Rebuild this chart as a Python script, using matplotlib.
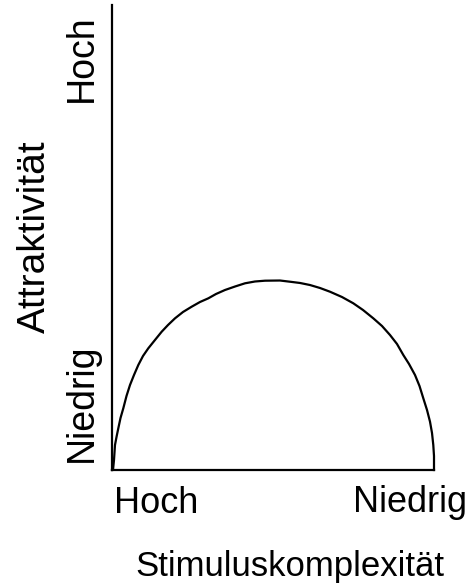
import matplotlib
matplotlib.use("Agg")
import matplotlib.pyplot as plt

# Data (x: Stimuluskomplexität 0=Hoch..100=Niedrig, y: Attraktivität 0..100)
curve_x = [0, 0.31, 0.62, 0.93, 1.40, 1.96, 2.64, 3.51, 4.50, 5.59, 6.83, 8.17, 9.63, 11.27,
           13.35, 15.43, 17.39, 19.57, 22.05, 24.75, 27.33, 29.91, 32.30, 35.09, 38.20,
           41.30, 44.41, 47.52, 52.17, 55.28, 58.39, 61.49, 64.60, 67.70, 71.43, 74.94,
           77.95, 81.15, 83.85, 86.34, 88.51, 90.47, 92.24, 94.10, 95.50, 96.68, 97.83,
           98.76, 99.38, 99.78, 100, 100, 100]
curve_y = [0, 0, 2.15, 5.38, 7.10, 8.97, 11.18, 13.27, 15.91, 18.28, 20.43, 22.58, 24.52, 26.17,
           27.96, 29.74, 31.18, 32.62, 33.98, 35.12, 36.13, 36.92, 37.85, 38.71, 39.46,
           40.15, 40.54, 40.71, 40.75, 40.49, 40.22, 39.78, 39.14, 38.34, 37.20, 35.85,
           34.41, 32.62, 30.97, 29.03, 27.10, 24.73, 22.80, 20.43, 18.06, 15.42, 12.90,
           10.39, 7.96, 5.38, 3.01, 0.71, 0]
x_tick_labels = ["Hoch", "Niedrig"]
y_tick_labels = ["Niedrig", "Hoch"]
x_label = "Stimuluskomplexität"
y_label = "Attraktivität"

W, H = 469, 584
fig = plt.figure(figsize=(W / 100, H / 100), dpi=100)
plt.rcParams['font.family'] = ['Liberation Sans', 'DejaVu Sans']

def fx(px):
    return px / W

def fy(py):
    return 1 - py / H

ax = fig.add_axes([fx(112), fy(470), (434 - 112) / W, 465 / H])
ax.set_xlim(0, 100)
ax.set_ylim(0, 100)
ax.plot(curve_x, curve_y, color='black', lw=1.6, clip_on=False,
        solid_joinstyle='round', antialiased=True)
for s in ['top', 'right']:
    ax.spines[s].set_visible(False)
for s in ['left', 'bottom']:
    ax.spines[s].set_linewidth(1.6)
    ax.spines[s].set_color('black')
ax.set_xticks([])
ax.set_yticks([])
ax.patch.set_alpha(0)

hsize = 26
vsize = 27
# x tick labels
fig.text(fx(114), fy(513), x_tick_labels[0], fontsize=hsize, ha='left', va='baseline')
fig.text(fx(467), fy(512), x_tick_labels[1], fontsize=hsize, ha='right', va='baseline')
# x label
fig.text(fx(290), fy(576), x_label, fontsize=25, ha='center', va='baseline')
# y tick labels (rotated)
fig.text(fx(92), fy(403), y_tick_labels[0], fontsize=vsize, rotation=90,
         rotation_mode='anchor', ha='center', va='baseline')
fig.text(fx(92), fy(58), y_tick_labels[1], fontsize=vsize, rotation=90,
         rotation_mode='anchor', ha='center', va='baseline')
# y label
fig.text(fx(45), fy(237), y_label, fontsize=28, rotation=90,
         rotation_mode='anchor', ha='center', va='baseline')

fig.savefig('out.png', dpi=100, facecolor='white')
